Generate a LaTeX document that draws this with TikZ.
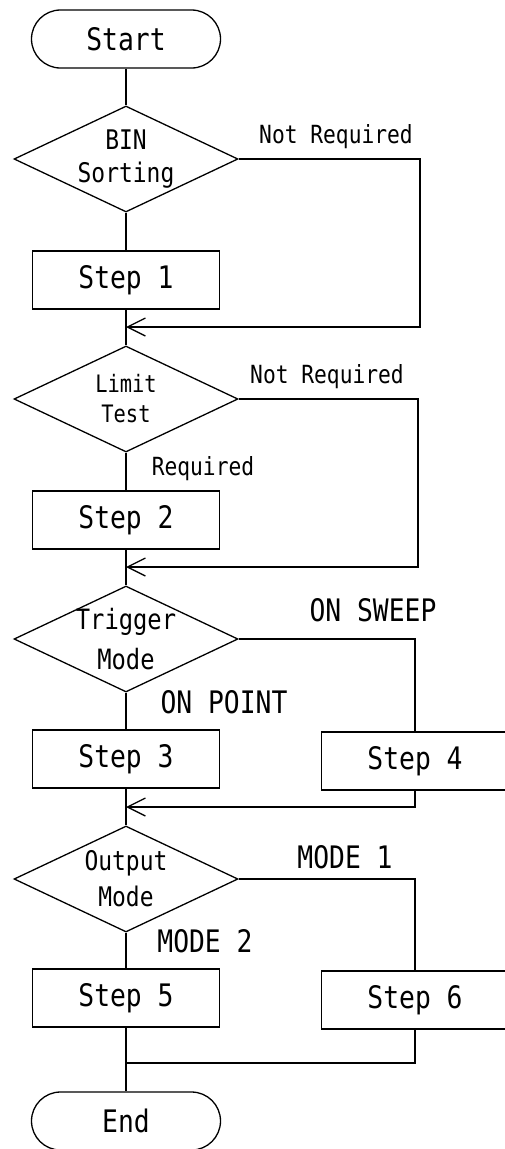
\documentclass[tikz,border=0pt]{standalone}
\usepackage{fontspec}
\newfontfamily\gothic[FakeStretch=0.85]{DejaVu Sans Mono}
\usetikzlibrary{arrows.meta,shapes.geometric}

\begin{document}
\begin{tikzpicture}[x=1pt,y=-1pt,line width=1.3pt,
term/.style={draw,rectangle,rounded corners=29pt,minimum width=189pt,minimum height=58pt,font=\gothic\fontsize{31}{36}\selectfont},
stepbox/.style={draw,line width=1.6pt,minimum width=187pt,minimum height=58pt,font=\gothic\fontsize{31}{36}\selectfont},
decide/.style={draw,diamond,aspect=2.1,inner xsep=-12pt,inner ysep=-10pt,minimum width=224pt,minimum height=106pt,align=center},
lbl/.style={anchor=base,inner sep=0pt},
ret/.style={-{Straight Barb[length=18pt,width=18pt]}}]
\useasboundingbox (0,0) rectangle (504,1149);
\node[term] (start) at (126,39) {Start};
\node[term] (finish) at (126,1121) {End};
\foreach \n/\y/\s/\b/\t in {bin/159/27/33/{BIN\\Sorting},lim/399/24/30/{Limit\\Test},
trig/639/28/40/{Trigger\\Mode},out/879/27/36/{Output\\Mode}}{
\node[decide,font=\gothic\fontsize{\s}{\b}\selectfont] (\n) at (126,\y) {\t};}
\foreach \n/\x/\y/\t in {step1/126/280/1,step2/126/520/2,step3/126/759/3,step4/415/761/4,step5/126/998/5,step6/415/1000/6}{
\node[stepbox] (\n) at (\x,\y) {Step \t};}
\foreach \n/\x/\y/\s/\t in {nr1/336/143/25/Not Required,nr2/327/383/25/Not Required,req/203/475/25/Required,
sweep/373/621/31/ON SWEEP,point/224/713/31/ON POINT,mode1/345/868/31/MODE 1,mode2/205/952/31/MODE 2}{
\node[lbl,font=\gothic\fontsize{\s}{\s}\selectfont] (\n) at (\x,\y) {\t};}
\foreach \a/\b in {start/bin,bin/step1,step1/lim,lim/step2,step2/trig,trig/step3,step3/out,out/step5,step5/finish}{
\draw (\a)--(\b);}
\coordinate (j1) at (126,327); \coordinate (r1) at (420,327);
\coordinate (j2) at (126,567); \coordinate (r2) at (418,567);
\coordinate (j3) at (126,807); \coordinate (j4) at (126,1063);
\draw[ret] (bin.east) -| (r1) -- (j1);
\draw[ret] (lim.east) -| (r2) -- (j2);
\draw (trig.east) -| (step4);
\draw[ret] (step4) |- (j3);
\draw (out.east) -| (step6);
\draw (step6) |- (j4);
\end{tikzpicture}
\end{document}
